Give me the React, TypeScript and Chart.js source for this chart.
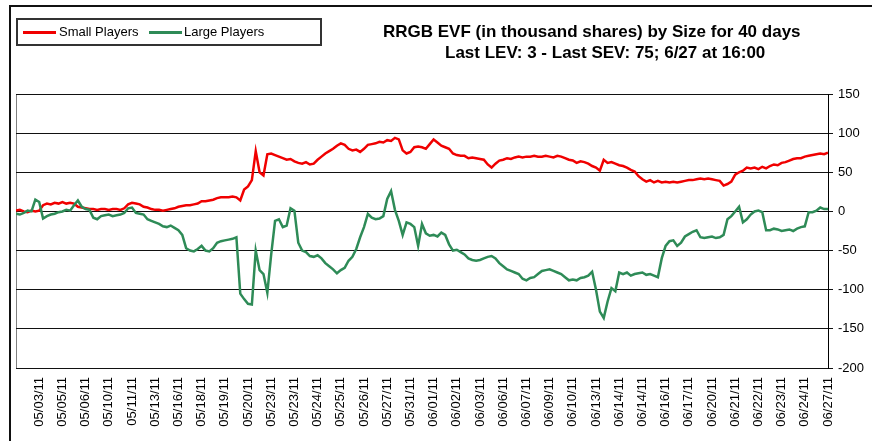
import React, { useEffect, useRef } from 'react';
import { Chart, registerables } from 'chart.js';

Chart.register(...registerables);

const tickLabels = [
  '05/03/11', '05/05/11', '05/06/11', '05/10/11', '05/11/11', '05/13/11', '05/16/11', '05/18/11',
  '05/19/11', '05/20/11', '05/23/11', '05/23/11', '05/24/11', '05/25/11', '05/26/11', '05/27/11',
  '05/31/11', '06/01/11', '06/02/11', '06/03/11', '06/06/11', '06/07/11', '06/09/11', '06/10/11',
  '06/13/11', '06/14/11', '06/14/11', '06/16/11', '06/17/11', '06/20/11', '06/21/11', '06/22/11',
  '06/23/11', '06/24/11', '06/27/11',
];

const yTickValues = [150, 100, 50, 0, -50, -100, -150, -200];

const smallPlayers = [
  1, 2, 0, -1, 1, 0, 1, 8, 10, 9,
  11, 10, 12, 10, 11, 10, 6, 5, 4, 3,
  3, 2, 3, 3, 2, 3, 3, 2, 4, 9,
  11, 10, 9, 6, 5, 3, 2, 2, 1, 2,
  3, 4, 6, 7, 8, 8, 9, 10, 13, 13,
  14, 15, 17, 18, 18, 18, 19, 18, 14, 28,
  32, 40, 77, 50, 46, 73, 74, 72, 70, 68,
  66, 67, 64, 62, 61, 63, 60, 61, 66, 70,
  74, 77, 80, 84, 87, 85, 80, 78, 79, 76,
  80, 85, 86, 87, 89, 88, 91, 90, 94, 92,
  78, 74, 76, 82, 83, 82, 80, 86, 92, 88,
  84, 82, 80, 74, 72, 71, 71, 68, 69, 68,
  67, 66, 60, 56, 61, 65, 66, 68, 67, 69,
  70, 69, 70, 70, 71, 70, 70, 71, 70, 69,
  71, 70, 68, 66, 65, 62, 64, 63, 61, 58,
  56, 52, 66, 62, 63, 61, 59, 58, 56, 53,
  51, 45, 41, 38, 40, 37, 39, 37, 38, 37,
  38, 37, 38, 39, 40, 40, 41, 42, 41, 42,
  41, 40, 39, 33, 35, 38, 47, 50, 52, 56,
  55, 56, 54, 57, 55, 58, 60, 59, 62, 63,
  65, 67, 68, 68, 70, 71, 72, 73, 74, 73,
  75,
];

const largePlayers = [
  -3, -4, -2, 1, 0, 15, 12, -9, -6, -4,
  -3, -1, 0, 2, 1, 8, 14, 6, 3, 2,
  -8, -10, -6, -5, -4, -6, -5, -4, -2, 4,
  5, -2, -3, -4, -10, -12, -14, -16, -19, -20,
  -18, -21, -24, -30, -47, -50, -51, -48, -44, -50,
  -51, -47, -40, -38, -37, -36, -35, -33, -105, -112,
  -118, -119, -50, -75, -80, -104, -55, -12, -10, -20,
  -18, 4, 1, -40, -50, -52, -57, -58, -56, -60,
  -66, -70, -74, -79, -75, -72, -63, -58, -48, -33,
  -20, -3, -8, -10, -9, -6, 16, 26, 2, -12,
  -30, -14, -16, -20, -44, -16, -28, -31, -30, -32,
  -27, -30, -42, -50, -49, -52, -55, -60, -62, -63,
  -62, -60, -58, -57, -60, -66, -70, -74, -76, -78,
  -80, -86, -88, -85, -84, -80, -76, -75, -74, -76,
  -78, -80, -84, -88, -87, -88, -85, -84, -82, -77,
  -100, -128, -136, -115, -98, -102, -78, -80, -78, -82,
  -80, -79, -78, -81, -80, -82, -84, -60, -44, -38,
  -37, -44, -40, -32, -29, -26, -24, -33, -34, -33,
  -32, -34, -33, -30, -10, -6, 0, 6, -14, -10,
  -4, 0, 1, -1, -24, -24, -22, -23, -25, -24,
  -23, -25, -22, -20, -19, -1, -1, 1, 5, 3,
  3,
];

const FONT = '"Liberation Sans", Arial, sans-serif';

export default function App() {
  const ref = useRef<HTMLCanvasElement>(null);

  useEffect(() => {
    document.body.style.margin = '0';
    const canvas = ref.current;
    if (!canvas) return;
    const toPoints = (arr: number[]) => arr.map((v, i) => ({ x: i, y: v }));
    const lastIndex = smallPlayers.length - 1;
    const step = lastIndex / tickLabels.length;

    const chart = new Chart(canvas, {
      type: 'line',
      data: {
        datasets: [
          {
            label: 'Small Players',
            data: toPoints(smallPlayers),
            borderColor: '#f00000',
            backgroundColor: '#f00000',
            borderWidth: 2.5,
            pointRadius: 0,
            tension: 0,
            order: 1,
          },
          {
            label: 'Large Players',
            data: toPoints(largePlayers),
            borderColor: '#2e8b57',
            backgroundColor: '#2e8b57',
            borderWidth: 2.5,
            pointRadius: 0,
            tension: 0,
            order: 0,
          },
        ],
      },
      options: {
        responsive: false,
        animation: false,
        devicePixelRatio: 1,
        layout: { padding: { left: 16, top: 94, right: 0, bottom: 0 } },
        plugins: {
          legend: { display: false },
          title: { display: false },
          tooltip: { enabled: false },
        },
        scales: {
          x: {
            type: 'linear',
            min: 0,
            max: lastIndex,
            afterFit: (s: any) => { s.height = 441 - 368; },
            border: { display: false },
            grid: {
              drawTicks: false,
              color: (ctx: any) => (ctx.index === 0 ? '#808080' : 'rgba(0,0,0,0)'),
              lineWidth: 1,
            },
            ticks: {
              stepSize: step,
              autoSkip: false,
              minRotation: 90,
              maxRotation: 90,
              padding: 9,
              color: '#000',
              font: { family: FONT, size: 13 },
              callback: (v: any) => {
                const k = Math.round(Number(v) / step);
                return k >= 1 && k <= tickLabels.length ? tickLabels[k - 1] : '';
              },
            },
          },
          y: {
            position: 'right',
            min: yTickValues[yTickValues.length - 1],
            max: yTickValues[0],
            afterFit: (s: any) => { s.width = 872 - 828; },
            border: { display: true, color: '#000', width: 1 },
            grid: {
              color: '#111',
              lineWidth: 1,
              drawTicks: true,
              tickLength: 5,
            },
            ticks: {
              stepSize: 50,
              padding: 5,
              color: '#000',
              font: { family: FONT, size: 13 },
            },
          },
        },
      },
    });
    return () => chart.destroy();
  }, []);

  return (
    <div style={{ position: 'relative', width: 872, height: 441, overflow: 'hidden', background: '#fff', fontFamily: FONT }}>
      <canvas ref={ref} width={872} height={441} style={{ position: 'absolute', left: 0, top: 0 }} />
      <div style={{ position: 'absolute', left: 9, top: 5, width: 900, height: 500, borderLeft: '2px solid #111', borderTop: '2px solid #111', boxSizing: 'border-box', pointerEvents: 'none' }} />
      <div style={{ position: 'absolute', left: 16, top: 18, width: 306, height: 28, border: '2px solid #333', boxSizing: 'border-box', background: '#fff' }}>
        <div style={{ position: 'absolute', left: 5, top: 11, width: 33, height: 3, background: '#f00000' }} />
        <div style={{ position: 'absolute', left: 41, top: 4, fontSize: 13, lineHeight: '16px', color: '#000', whiteSpace: 'nowrap' }}>Small Players</div>
        <div style={{ position: 'absolute', left: 131, top: 11, width: 33, height: 3, background: '#2e8b57' }} />
        <div style={{ position: 'absolute', left: 166, top: 4, fontSize: 13, lineHeight: '16px', color: '#000', whiteSpace: 'nowrap' }}>Large Players</div>
      </div>
      <div style={{ position: 'absolute', left: 383, top: 22, fontSize: 17, fontWeight: 'bold', lineHeight: '20px', color: '#000', whiteSpace: 'nowrap' }}>
        RRGB EVF (in thousand shares) by Size for 40 days
      </div>
      <div style={{ position: 'absolute', left: 445, top: 43, fontSize: 17, fontWeight: 'bold', lineHeight: '20px', color: '#000', whiteSpace: 'nowrap' }}>
        Last LEV: 3 - Last SEV: 75; 6/27 at 16:00
      </div>
    </div>
  );
}
